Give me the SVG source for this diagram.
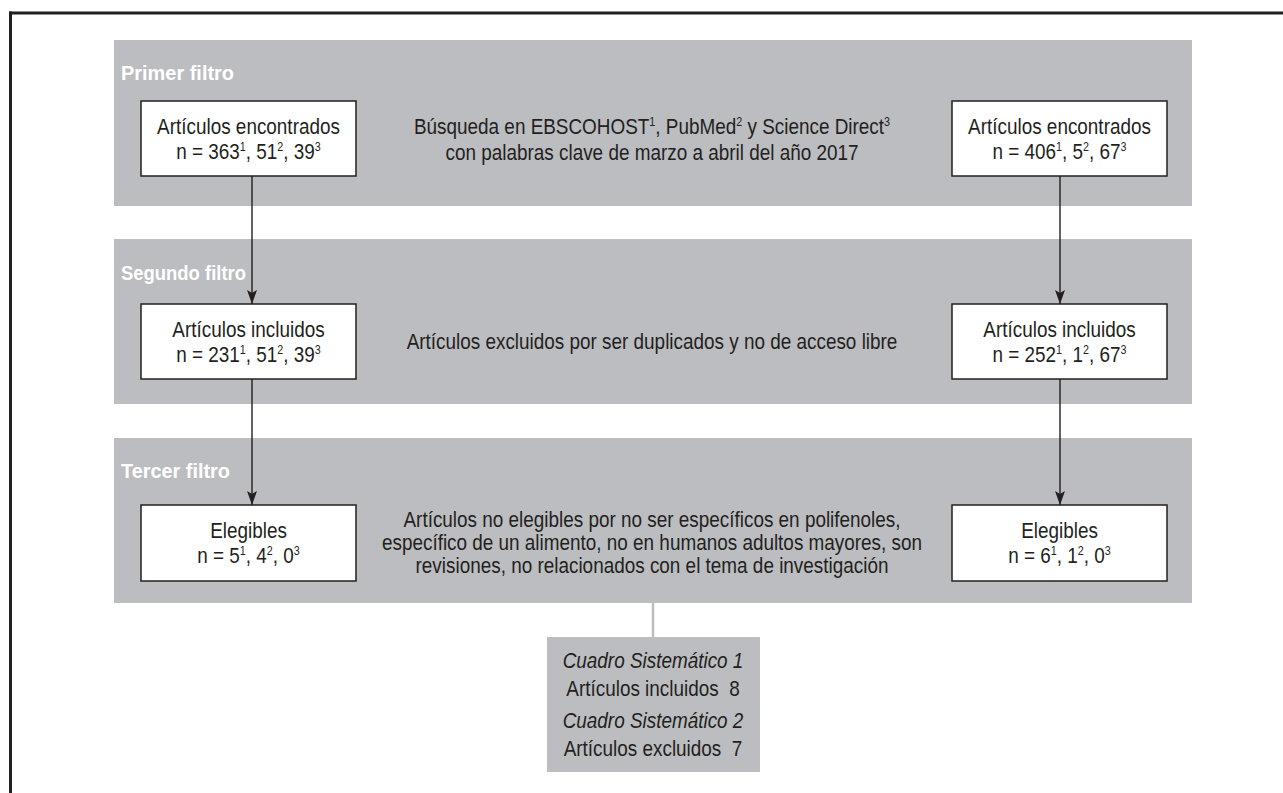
<svg xmlns="http://www.w3.org/2000/svg" width="1283" height="793" viewBox="0 0 1283 793">
<style>
.band{fill:#bcbdc0}
.box{fill:#ffffff;stroke:#231f20;stroke-width:1.5}
.t{font-family:"Liberation Sans",Arial,sans-serif;font-size:22px;fill:#231f20;text-anchor:middle}
.it{font-style:italic}
.sup{font-size:12.5px}
.title{font-family:"Liberation Sans",Arial,sans-serif;font-size:20px;font-weight:bold;fill:#ffffff}
.conn{stroke:#231f20;stroke-width:1.4;fill:none}
.gconn{stroke:#bcbdc0;stroke-width:2.5;fill:none}
.pre{white-space:pre}
</style>
<defs>
<marker id="arr" viewBox="0 0 14 10" refX="14" refY="5" markerWidth="14" markerHeight="10" markerUnits="userSpaceOnUse" orient="auto">
<path d="M0,0 L14,5 L0,10 L3,5 Z" fill="#231f20"/>
</marker>
</defs>
<rect width="1283" height="793" fill="#ffffff"/>
<g id="frame">
<line x1="9" y1="13" x2="1283" y2="13" stroke="#231f20" stroke-width="3"/>
<line x1="10.5" y1="11.5" x2="10.5" y2="793" stroke="#231f20" stroke-width="3"/>
</g>
<g id="band1">
<rect class="band" x="114" y="40" width="1078" height="166"/>
<text class="title" x="121" y="80" textLength="113" lengthAdjust="spacingAndGlyphs">Primer filtro</text>
</g>
<g id="band2">
<rect class="band" x="114" y="239" width="1078" height="165"/>
<text class="title" x="121" y="280" textLength="125" lengthAdjust="spacingAndGlyphs">Segundo filtro</text>
</g>
<g id="band3">
<rect class="band" x="114" y="438" width="1078" height="165"/>
<text class="title" x="121" y="478" textLength="109" lengthAdjust="spacingAndGlyphs">Tercer filtro</text>
</g>
<g id="connectors">
<line class="conn" x1="252" y1="176" x2="252" y2="304" marker-end="url(#arr)"/>
<line class="conn" x1="252" y1="379" x2="252" y2="505" marker-end="url(#arr)"/>
<line class="conn" x1="1060" y1="176" x2="1060" y2="304" marker-end="url(#arr)"/>
<line class="conn" x1="1060" y1="379" x2="1060" y2="505" marker-end="url(#arr)"/>
<line class="gconn" x1="653" y1="603" x2="653" y2="637"/>
</g>
<g id="box1L">
<rect class="box" x="141" y="101" width="215" height="75"/>
<g transform="translate(248.5 0) scale(0.86 1)">
<text class="t" x="0" y="134">Artículos encontrados</text>
<text class="t" x="0" y="159">n = 363<tspan class="sup" dy="-7.5">1</tspan><tspan dy="7.5">, 51</tspan><tspan class="sup" dy="-7.5">2</tspan><tspan dy="7.5">, 39</tspan><tspan class="sup" dy="-7.5">3</tspan></text>
</g>
</g>
<g id="search">
<g transform="translate(652 0) scale(0.86 1)">
<text class="t" x="0" y="134">Búsqueda en EBSCOHOST<tspan class="sup" dy="-7.5">1</tspan><tspan dy="7.5">, PubMed</tspan><tspan class="sup" dy="-7.5">2</tspan><tspan dy="7.5"> y Science Direct</tspan><tspan class="sup" dy="-7.5">3</tspan></text>
<text class="t" x="0" y="160">con palabras clave de marzo a abril del año 2017</text>
</g>
</g>
<g id="box1R">
<rect class="box" x="952" y="101" width="215" height="75"/>
<g transform="translate(1059.5 0) scale(0.86 1)">
<text class="t" x="0" y="134">Artículos encontrados</text>
<text class="t" x="0" y="159">n = 406<tspan class="sup" dy="-7.5">1</tspan><tspan dy="7.5">, 5</tspan><tspan class="sup" dy="-7.5">2</tspan><tspan dy="7.5">, 67</tspan><tspan class="sup" dy="-7.5">3</tspan></text>
</g>
</g>
<g id="box2L">
<rect class="box" x="141" y="304" width="215" height="75"/>
<g transform="translate(248.5 0) scale(0.86 1)">
<text class="t" x="0" y="337">Artículos incluidos</text>
<text class="t" x="0" y="362">n = 231<tspan class="sup" dy="-7.5">1</tspan><tspan dy="7.5">, 51</tspan><tspan class="sup" dy="-7.5">2</tspan><tspan dy="7.5">, 39</tspan><tspan class="sup" dy="-7.5">3</tspan></text>
</g>
</g>
<g id="excluded">
<g transform="translate(652 0) scale(0.86 1)">
<text class="t" x="0" y="349">Artículos excluidos por ser duplicados y no de acceso libre</text>
</g>
</g>
<g id="box2R">
<rect class="box" x="952" y="304" width="215" height="75"/>
<g transform="translate(1059.5 0) scale(0.86 1)">
<text class="t" x="0" y="337">Artículos incluidos</text>
<text class="t" x="0" y="362">n = 252<tspan class="sup" dy="-7.5">1</tspan><tspan dy="7.5">, 1</tspan><tspan class="sup" dy="-7.5">2</tspan><tspan dy="7.5">, 67</tspan><tspan class="sup" dy="-7.5">3</tspan></text>
</g>
</g>
<g id="box3L">
<rect class="box" x="141" y="505" width="215" height="76"/>
<g transform="translate(248.5 0) scale(0.86 1)">
<text class="t" x="0" y="538">Elegibles</text>
<text class="t" x="0" y="563">n = 5<tspan class="sup" dy="-7.5">1</tspan><tspan dy="7.5">, 4</tspan><tspan class="sup" dy="-7.5">2</tspan><tspan dy="7.5">, 0</tspan><tspan class="sup" dy="-7.5">3</tspan></text>
</g>
</g>
<g id="noneligible">
<g transform="translate(652 0) scale(0.86 1)">
<text class="t" x="0" y="527">Artículos no elegibles por no ser específicos en polifenoles,</text>
<text class="t" x="0" y="550">específico de un alimento, no en humanos adultos mayores, son</text>
<text class="t" x="0" y="573">revisiones, no relacionados con el tema de investigación</text>
</g>
</g>
<g id="box3R">
<rect class="box" x="952" y="505" width="215" height="76"/>
<g transform="translate(1059.5 0) scale(0.86 1)">
<text class="t" x="0" y="538">Elegibles</text>
<text class="t" x="0" y="563">n = 6<tspan class="sup" dy="-7.5">1</tspan><tspan dy="7.5">, 1</tspan><tspan class="sup" dy="-7.5">2</tspan><tspan dy="7.5">, 0</tspan><tspan class="sup" dy="-7.5">3</tspan></text>
</g>
</g>
<g id="summary">
<rect class="band" x="547" y="637" width="213" height="135"/>
<g transform="translate(653 0) scale(0.86 1)">
<text class="t it" x="0" y="668">Cuadro Sistemático 1</text>
<text class="t pre" x="0" y="696">Artículos incluidos  8</text>
<text class="t it" x="0" y="728">Cuadro Sistemático 2</text>
<text class="t pre" x="0" y="756">Artículos excluidos  7</text>
</g>
</g>
</svg>
